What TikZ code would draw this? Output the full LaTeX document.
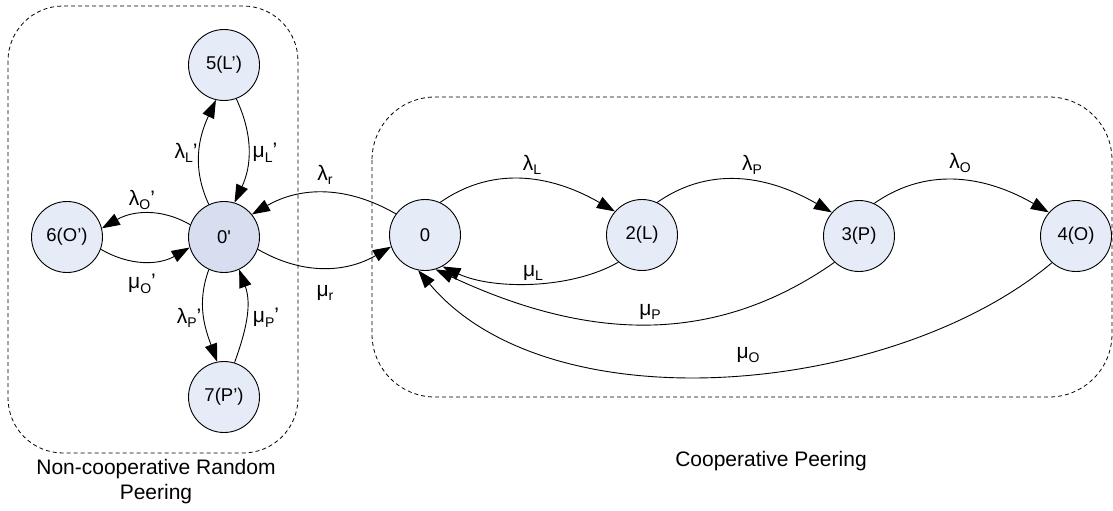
\documentclass[tikz,border=0pt]{standalone}
\usepackage{fontspec}
\setmainfont{Liberation Sans}
\usetikzlibrary{arrows.meta}
\definecolor{nfill}{RGB}{230,236,247}
\definecolor{nfillb}{RGB}{214,222,240}
\newcommand\sbs[1]{\raisebox{-0.22em}{\fontsize{14}{14}\selectfont #1}}
\newcommand\sq{\XeTeXglyph\XeTeXcharglyph"0027\relax}
\begin{document}
\begin{tikzpicture}[x=1pt,y=1pt,
  state/.style={circle,draw,line width=0.9pt,fill=nfill,minimum size=71pt,inner sep=0pt,font=\fontsize{18.5}{20}\selectfont},
  arr/.style={line width=0.9pt,-{Triangle[length=18pt,width=12.5pt]}},
  lbl/.style={font=\fontsize{21}{25}\selectfont,inner sep=0pt},
  grp/.style={draw,dash pattern=on 4pt off 3pt,line width=0.8pt}]
\useasboundingbox (0,0) rectangle (1113,-511);
\draw[grp,rounded corners=55pt] (8,-6) rectangle (298,-453);
\draw[grp,rounded corners=63pt] (372,-97) rectangle (1112,-397);
% states
\node[state,fill=nfillb] (n0p) at (224,-237) {0\sq};
\node[state] (n5) at (224,-65) {5(L’)};
\node[state] (n6) at (67,-237) {6(O’)};
\node[state] (n7) at (224,-397) {7(P’)};
\node[state] (n0) at (425,-235) {0};
\node[state] (n2) at (642,-235) {2(L)};
\node[state] (n3) at (859,-236) {3(P)};
\node[state] (n4) at (1076,-236) {4(O)};
% cooperative side
\draw[arr] (n0.144) to[out=150,in=30] (n0p.39);
\draw[arr] (n0p.-20) to[out=-30,in=-150] (n0.199);
\draw[arr] (n0.65) to[out=35,in=150] (n2.139);
\draw[arr] (n2.229) to[out=210,in=-25,looseness=0.8] (n0.-61);
\draw[arr] (n2.65) to[out=35,in=150] (n3.139);
\draw[arr] (n3.65) to[out=35,in=150] (n4.139);
\draw[arr] (n3.227) to[out=215,in=-25] (n0.-73);
\draw[arr] (n4.228) to[out=220,in=-50,looseness=0.83] (n0.-101);
% non-cooperative side
\draw[arr] (n0p.115) to[out=115,in=245] (n5.257);
\draw[arr] (n5.290) to[out=295,in=65] (n0p.73);
\draw[arr] (n0p.160) to[out=150,in=30] (n6.14);
\draw[arr] (n6.-20) to[out=-30,in=-150] (n0p.197);
\draw[arr] (n0p.245) to[out=250,in=110] (n7.101);
\draw[arr] (n7.73) to[out=70,in=-70] (n0p.-65);
% labels
\node[lbl] (llr) at (325,-175) {λ\sbs{r}};
\node[lbl] (lmr) at (325,-293) {μ\sbs{r}};
\node[lbl] (llL) at (532,-165) {λ\sbs{L}};
\node[lbl] (lmL) at (533,-273) {μ\sbs{L}};
\node[lbl] (llP) at (752,-165) {λ\sbs{P}};
\node[lbl] (lmP) at (650,-312) {μ\sbs{P}};
\node[lbl] (llO) at (960,-163) {λ\sbs{O}};
\node[lbl] (lmO) at (748,-355) {μ\sbs{O}};
\node[lbl] (llL2) at (186,-153) {λ\sbs{L}’};
\node[lbl] (lmL2) at (265,-153) {μ\sbs{L}’};
\node[lbl] (llO2) at (142,-200) {λ\sbs{O}’};
\node[lbl] (lmO2) at (142,-284) {μ\sbs{O}’};
\node[lbl] (llP2) at (189,-318) {λ\sbs{P}’};
\node[lbl] (lmP2) at (266,-318) {μ\sbs{P}’};
\node[lbl,align=center] (gname1) at (156,-482) {Non-cooperative Random\\Peering};
\node[lbl] (gname2) at (771,-461) {Cooperative Peering};
\end{tikzpicture}
\end{document}
